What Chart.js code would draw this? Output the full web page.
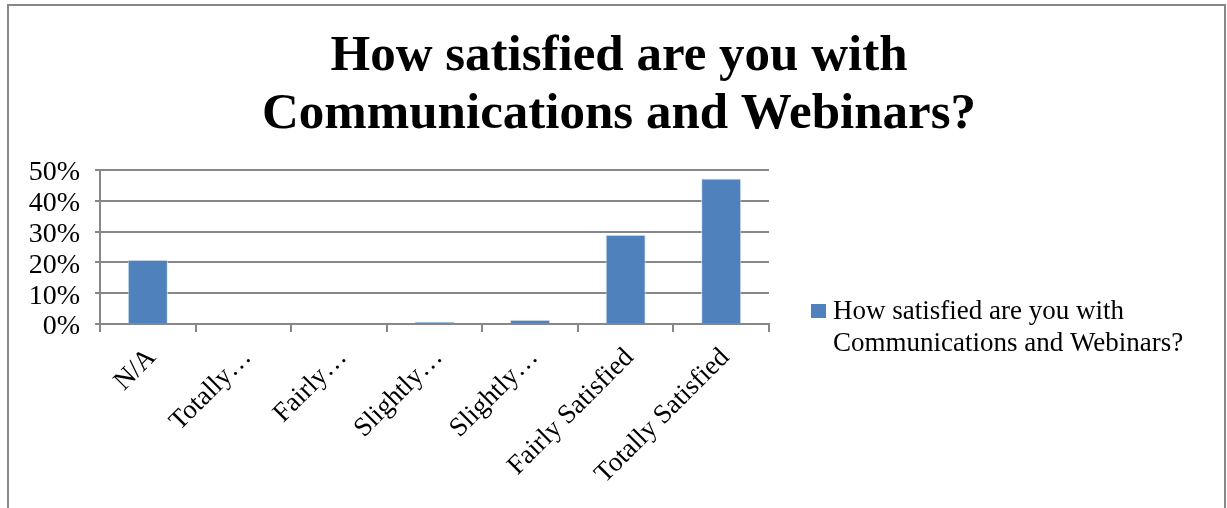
<!DOCTYPE html>
<html>
<head>
<meta charset="utf-8">
<title>Communications and Webinars</title>
<script src="https://cdn.jsdelivr.net/npm/chart.js@4.4.0/dist/chart.umd.min.js"></script>
<style>
  html, body { margin: 0; padding: 0; background: #fff; overflow: hidden; }
  #wrap { width: 1227px; height: 508px; }
</style>
</head>
<body>
<div id="wrap"><canvas id="satChart" width="1227" height="508"></canvas></div>
<script>
// ===== DATA =====
const categories = ['N/A', 'Totally…', 'Fairly…', 'Slightly…', 'Slightly…', 'Fairly Satisfied', 'Totally Satisfied'];
const shares = [20.9, 0, 0, 0.7, 1.4, 29.0, 47.2];
const yTicks = [0, 10, 20, 30, 40, 50];
const titleLines = ['How satisfied are you with', 'Communications and Webinars?'];
const seriesLines = ['How satisfied are you with', 'Communications and Webinars?'];

const FONT = "'Liberation Serif', 'DejaVu Serif', serif";
const BAR_BLUE = '#4f81bd';
const AXIS_GREY = '#878787';

// frame, title over the whole box and the legend on the right
const framePlugin = {
  id: 'frame',
  beforeDraw(chart) {
    const ctx = chart.ctx;
    ctx.save();
    ctx.fillStyle = '#fff';
    ctx.fillRect(0, 0, chart.width, chart.height);
    ctx.strokeStyle = AXIS_GREY;
    ctx.lineWidth = 2;
    ctx.strokeRect(8, 5, 1217, 560);
    ctx.restore();
  },
  afterDraw(chart) {
    const ctx = chart.ctx;
    ctx.save();
    ctx.fillStyle = '#000';
    ctx.textBaseline = 'alphabetic';
    ctx.textAlign = 'center';
    ctx.font = 'bold 51px ' + FONT;
    titleLines.forEach((line, i) => ctx.fillText(line, 619, 70 + i * 58));

    ctx.fillStyle = BAR_BLUE;
    ctx.fillRect(811, 304, 15, 14);
    ctx.fillStyle = '#000';
    ctx.font = '27px ' + FONT;
    ctx.textAlign = 'left';
    seriesLines.forEach((line, i) => ctx.fillText(line, 833, 319 + i * 32));
    ctx.restore();
  }
};

new Chart(document.getElementById('satChart'), {
  type: 'bar',
  data: {
    labels: categories,
    datasets: [{
      label: seriesLines.join(' '),
      data: shares,
      backgroundColor: BAR_BLUE,
      borderColor: 'rgba(220,230,242,0.9)',
      borderWidth: 1,
      barPercentage: 0.42,
      categoryPercentage: 1
    }]
  },
  options: {
    responsive: false,
    animation: false,
    devicePixelRatio: 1,
    layout: { padding: { left: 0, right: 458, top: 170, bottom: 0 } },
    plugins: {
      legend: { display: false },
      tooltip: { enabled: false },
      title: { display: false }
    },
    scales: {
      x: {
        offset: true,
        grid: { display: true, drawOnChartArea: false, drawTicks: true, tickLength: 8, color: AXIS_GREY, lineWidth: 2, offset: true },
        border: { display: true, color: AXIS_GREY, width: 2 },
        ticks: {
          color: '#000',
          font: { family: FONT, size: 27 },
          minRotation: 45,
          maxRotation: 45,
          autoSkip: false,
          padding: 10,
          labelOffset: 4
        },
        afterFit(scale) { scale.height = 184; }
      },
      y: {
        min: 0,
        max: 50,
        afterBuildTicks(scale) { scale.ticks = yTicks.map(v => ({ value: v })); },
        grid: { color: AXIS_GREY, lineWidth: 2, drawTicks: true, tickLength: 5 },
        border: { display: true, color: AXIS_GREY, width: 2 },
        ticks: {
          color: '#000',
          font: { family: FONT, size: 28 },
          padding: 15,
          autoSkip: false,
          labelOffset: 3,
          callback: v => v + '%'
        },
        afterFit(scale) { scale.width = 100; }
      }
    }
  },
  plugins: [framePlugin]
});
</script>
</body>
</html>
